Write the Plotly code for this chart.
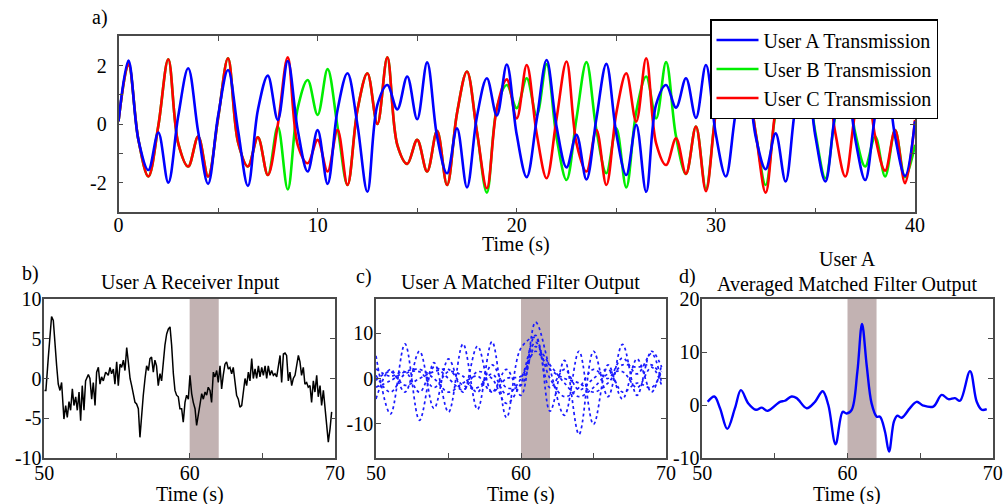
import plotly.graph_objects as go

# ---------------- data: panel a (transmissions) ----------------
A_TIME = [0.0, 0.5, 1.0, 1.5, 2.0, 2.5, 3.0, 3.5, 4.0, 4.5, 5.0, 5.5, 6.0, 6.5, 7.0, 7.5,
          8.0, 8.5, 9.0, 9.5, 10.0, 10.5, 11.0, 11.5, 12.0, 12.5, 13.0, 13.5, 14.0, 14.5,
          15.0, 15.5, 16.0, 16.5, 17.0, 17.5, 18.0, 18.5, 19.0, 19.5, 20.0, 20.5, 21.0,
          21.5, 22.0, 22.5, 23.0, 23.5, 24.0, 24.5, 25.0, 25.5, 26.0, 26.5, 27.0, 27.5,
          28.0, 28.5, 29.0, 29.5, 30.0, 30.5, 31.0, 31.5, 32.0, 32.5, 33.0, 33.5, 34.0,
          34.5, 35.0, 35.5, 36.0, 36.5, 37.0, 37.5, 38.0, 38.5, 39.0, 39.5, 40.0]

USER_A = [0.1, 2.17, -0.53, -1.56, -0.28, -1.99, 0.28, 1.91, -0.25, -2.03,
          0.28, 1.85, -0.19, -2.1, 0.49, 1.66, 0.15, 2.16, -0.19, -1.61,
          -0.2, -2.03, 0.49, 1.74, -0.02, -2.3, 0.66, 1.34, 0.51, 1.63,
          0.17, 2.11, -0.42, -1.67, -0.14, -2.15, 0.26, 1.57, 0.3, 2.04,
          -0.36, -1.8, 0.15, 2.19, -0.08, -1.47, -0.36, -1.88, 0.2, 2.06,
          -0.31, -1.73, -0.02, -2.3, 0.68, 1.34, 0.57, 1.57, 0.22, 2.02,
          -0.35, -1.78, 0.4, 1.8, -0.42, -1.53, -0.31, -1.95, 0.6, 1.9,
          -0.42, -1.95, 0.4, 1.8, -0.5, -1.9, 0.3, 1.8, -0.42, -1.76, 0.1]

USER_B = [0.1, 2.05, -0.53, -1.78, -0.05, 2.22, -0.65, -1.44, -0.42, -1.78,
          0.2, 2.25, -0.6, -1.44, -0.44, -1.73, -0.08, -2.22, 0.55, 1.51,
          0.32, 1.88, -0.08, -2.07, 0.49, 1.74, 0.01, 2.28, -0.7, -1.35,
          -0.53, -1.61, -0.22, -2.07, 0.38, 1.8, -0.25, -2.33, 0.55, 1.34,
          0.55, 1.57, 0.3, 2.05, -0.45, -1.9, 0.2, 2.12, -0.19, -1.67,
          -0.14, -2.15, 0.43, 1.63, 0.2, 2.12, -0.42, -1.69, -0.08, -2.2,
          0.4, 1.9, 0.5, 1.6, -0.3, -2.07, 0.4, 1.8, 0.5, 1.7,
          -0.3, -1.84, 0.3, 1.6, -0.3, -1.44, -0.42, -1.78, -0.2, -1.8, -0.7]

USER_C = [0.1, 2.05, -0.53, -1.78, -0.05, 2.22, -0.65, -1.44, -0.42, -1.78,
          0.2, 2.25, -0.6, -1.44, -0.44, -1.73, -0.02, 2.28, -0.7, -1.33,
          -0.53, -1.61, -0.19, -2.07, 0.49, 1.74, 0.01, 2.28, -0.7, -1.35,
          -0.53, -1.61, -0.22, -2.07, 0.38, 1.8, -0.25, -2.18, 0.55, 1.53,
          0.2, 2.02, -0.31, -1.84, 0.2, 2.14, -0.65, -1.61, -0.19, -2.07,
          0.38, 1.74, 0.09, 2.25, -0.65, -1.39, -0.48, -1.69, -0.08, -2.28,
          0.4, 1.9, 0.5, 1.6, -0.3, -2.33, 0.5, 1.9, 0.5, 1.7,
          0.6, 1.8, -0.3, -1.78, 0.4, 1.7, -0.42, -1.58, -0.2, -2.01, 0.15]

SERIES_NAMES = ["User A Transmission", "User B Transmission", "User C Transmission"]
A_TICKS_X = [0, 5, 10, 15, 20, 25, 30, 35, 40]
A_TICKTEXT_X = ["0", "", "10", "", "20", "", "30", "", "40"]
A_TICKS_Y = [-2, -1, 0, 1, 2]
A_TICKTEXT_Y = ["-2", "", "0", "", "2"]

# ---------------- data: panel b (receiver input) ----------------
B_TIME = [50.0, 50.11, 50.27, 50.39, 50.5, 50.62, 50.73, 50.85, 50.96, 51.08, 51.19, 51.35,
          51.47, 51.58, 51.7, 51.81, 51.93, 52.04, 52.16, 52.27, 52.39, 52.5, 52.61, 52.73,
          52.84, 53.03, 53.14, 53.26, 53.37, 53.49, 53.6, 53.72, 53.83, 53.94, 54.06, 54.22,
          54.4, 54.52, 54.63, 54.75, 54.86, 54.98, 55.09, 55.21, 55.32, 55.44, 55.55, 55.67,
          55.78, 55.9, 56.01, 56.12, 56.24, 56.35, 56.47, 56.58, 56.7, 56.81, 56.93, 57.04,
          57.16, 57.27, 57.38, 57.5, 57.61, 57.72, 57.84, 57.96, 58.07, 58.19, 58.3, 58.42,
          58.53, 58.65, 58.76, 58.88, 58.99, 59.1, 59.22, 59.33, 59.45, 59.56, 59.68, 59.79,
          59.91, 60.02, 60.14, 60.25, 60.37, 60.48, 60.6, 60.71, 60.83, 60.94, 61.06, 61.17,
          61.28, 61.4, 61.51, 61.63, 61.74, 61.86, 61.97, 62.09, 62.2, 62.31, 62.43, 62.54,
          62.66, 62.77, 62.89, 63.0, 63.12, 63.23, 63.35, 63.46, 63.58, 63.69, 63.81, 63.92,
          64.04, 64.15, 64.27, 64.38, 64.5, 64.61, 64.73, 64.84, 64.96, 65.07, 65.19, 65.3,
          65.41, 65.53, 65.64, 65.76, 65.87, 65.99, 66.1, 66.22, 66.33, 66.45, 66.56, 66.67,
          66.79, 66.9, 67.02, 67.13, 67.25, 67.36, 67.48, 67.59, 67.7, 67.82, 67.93, 68.05,
          68.16, 68.28, 68.39, 68.51, 68.62, 68.74, 68.85, 68.97, 69.08, 69.2, 69.31, 69.43,
          69.54, 69.66, 69.77]
B_SIGNAL = [-1.5, -1.5, 2.5, 5.0, 7.8, 7.3, 4.2, 1.6, -0.7, -1.5, -0.5, -5.1,
            -3.4, -4.9, -2.9, -4.0, -1.3, -3.4, -2.3, -4.0, -1.7, -5.3, -0.9, -4.0,
            -0.3, 0.5, 0.0, -2.6, -0.5, -3.4, 0.8, 1.4, -0.7, 0.2, -0.3, 0.8,
            0.4, 1.4, 0.6, 1.2, -0.7, 2.1, -0.9, 1.8, 1.4, 2.3, 1.0, 3.9,
            2.1, 0.0, -0.9, -2.1, -3.0, -3.2, -3.8, -7.4, -4.0, -2.1, 0.0, 1.6,
            1.0, 2.5, 2.7, 0.8, 2.3, 1.6, -0.9, 0.6, -0.3, 2.1, 4.2, 5.6,
            6.2, 6.5, 4.2, 0.6, -1.5, -2.1, -2.3, -3.8, -3.8, -5.5, -3.0, -2.1,
            -2.6, 0.4, -1.9, -3.0, -3.8, -5.9, -4.7, -3.2, -1.9, -2.6, -1.7, -2.1,
            -1.1, -1.5, -3.0, 0.8, 0.2, 1.0, -0.5, 1.6, -1.3, 0.4, 1.8, 2.1,
            1.2, 1.4, 0.6, 1.4, -0.5, -2.1, -2.6, -3.6, -3.4, -1.7, 0.0, -0.9,
            0.8, -0.3, 2.5, 0.0, 1.2, 0.0, 1.6, 0.2, 1.4, 0.4, 1.6, 0.0,
            1.6, 0.4, 1.0, 0.4, 0.6, 0.2, 1.4, 2.9, -0.5, 3.1, 3.2, 2.9,
            -0.3, 0.8, -0.9, 0.0, 0.4, 1.6, 2.9, 2.1, 0.4, 1.4, -0.7, -0.5,
            -1.1, -0.9, -3.0, -0.3, -1.7, 0.4, -2.3, -0.9, -3.4, -1.5, -3.8, -6.3,
            -8.0, -6.3, -4.2]

# ---------------- data: panel c (matched filter outputs) ----------------
C_TIME = [50, 51, 52, 53, 54, 55, 56, 57, 58, 59, 60, 61, 62, 63, 64, 65, 66, 67, 68, 69, 69.7]
C_OUT_1 = [5.0, -7.8, 7.6, -9.2, 3.5, -7.4, 7.6, -6.8, 8.1, -8.6, 6.7, 9.0, -7.2, 4.0, -12.3, 6.0, -4.0, 7.5, -3.7, 6.0, 2.5]
C_OUT_2 = [-4.5, 2.0, -3.0, 6.0, -6.6, 4.3, -3.0, 7.1, -3.0, 2.0, -3.7, 12.4, 2.0, -8.1, 6.0, -10.1, 3.0, -4.5, 4.3, -3.0, 3.0]
C_OUT_3 = [2.1, 0.5, 1.5, -3.0, 2.5, 0.0, -2.5, 1.5, 0.0, -5.5, -1.0, 8.0, 0.0, -4.0, -2.0, 2.0, 0.0, 4.5, 1.0, 5.5, -1.0]
C_OUT_4 = [0.7, -3.0, 1.0, 1.5, -2.0, 1.5, 0.5, -3.0, 3.0, -2.0, -1.5, 7.0, 3.0, -1.0, -4.0, -2.0, 1.0, 1.5, -2.0, 2.5, -1.5]
C_OUT_5 = [-1.9, -0.5, 1.5, 2.0, 0.0, -3.0, -1.0, 0.5, -3.0, 0.0, 0.5, 6.0, 2.0, 0.0, -1.0, -3.0, -1.0, 3.0, 2.5, 3.0, 0.5]
C_OUT_6 = [-0.4, 1.5, -1.5, 0.0, 1.5, 2.0, -1.5, -2.0, 1.0, -3.5, 0.0, 9.5, -2.0, 2.0, -2.5, 0.0, 2.0, -3.0, -1.0, -2.0, 1.5]
C_OUTPUTS = [C_OUT_1, C_OUT_2, C_OUT_3, C_OUT_4, C_OUT_5, C_OUT_6]

# ---------------- data: panel d (averaged output) ----------------
D_TIME = [50.37, 50.83, 51.22, 51.72, 52.25, 52.66, 53.17, 53.7, 54.09, 54.48, 55.35, 55.69,
          56.15, 56.5, 57.19, 57.76, 58.29, 58.68, 59.18, 59.67, 59.94, 60.29, 60.68, 61.0,
          61.32, 61.66, 62.01, 62.24, 62.58, 62.86, 63.2, 63.43, 63.73, 64.3, 64.76, 65.22,
          65.91, 66.49, 66.95, 67.4, 67.75, 68.44, 68.9, 69.24, 69.59]
D_AVERAGE = [0.6, 1.6, -0.6, -4.5, -0.6, 2.8, 0.3, -0.9, -0.5, -1.1, 0.6, 0.8,
             1.6, 1.3, -0.6, 0.6, 2.6, 0.0, -7.4, -1.3, -1.6, -0.9, 6.3, 15.3,
             7.5, 0.3, -2.2, -2.2, -5.0, -8.8, -3.1, -2.0, -2.4, -0.6, 0.6, -0.1,
             -0.3, 1.9, 1.1, 1.3, 0.8, 6.4, 0.6, -0.9, -0.8]

SHADE_START, SHADE_END = 60, 62
BOTTOM_TICKS_X = [50, 55, 60, 65, 70]
BOTTOM_TICKTEXT_X = ["50", "", "60", "", "70"]

# ---------------- figure ----------------
W, H = 1003, 504
FONT = "Liberation Serif"
AX = "#4a4a4a"


def px(v):
    return v / W


def py(v):
    return 1 - v / H


fig = go.Figure()

# panel a traces (green, red, blue drawn in that order; legend A, B, C)
fig.add_trace(go.Scatter(x=A_TIME, y=USER_B, name=SERIES_NAMES[1], mode="lines",
                         line=dict(color="#00ee00", width=2.6, shape="spline", smoothing=1.0),
                         legendrank=2, xaxis="x", yaxis="y"))
fig.add_trace(go.Scatter(x=A_TIME, y=USER_C, name=SERIES_NAMES[2], mode="lines",
                         line=dict(color="#ff0000", width=2.6, shape="spline", smoothing=1.0),
                         legendrank=3, xaxis="x", yaxis="y"))
fig.add_trace(go.Scatter(x=A_TIME, y=USER_A, name=SERIES_NAMES[0], mode="lines",
                         line=dict(color="#0000ff", width=2.6, shape="spline", smoothing=1.0),
                         legendrank=1, xaxis="x", yaxis="y"))

# panel b
fig.add_trace(go.Scatter(x=B_TIME, y=B_SIGNAL, mode="lines", showlegend=False,
                         line=dict(color="black", width=1.5), xaxis="x2", yaxis="y2"))

# panel c
for series in C_OUTPUTS:
    fig.add_trace(go.Scatter(x=C_TIME, y=series, mode="lines", showlegend=False,
                             line=dict(color="#1a1aff", width=1.7, dash="dot",
                                       shape="spline", smoothing=1.0),
                             xaxis="x3", yaxis="y3"))
fig.add_trace(go.Scatter(x=[], y=[], showlegend=False, xaxis="x3", yaxis="y5"))

# panel d
fig.add_trace(go.Scatter(x=D_TIME, y=D_AVERAGE, mode="lines", showlegend=False,
                         line=dict(color="#0000ff", width=2.4, shape="spline", smoothing=1.0),
                         xaxis="x4", yaxis="y4"))
fig.add_trace(go.Scatter(x=[], y=[], showlegend=False, xaxis="x4", yaxis="y6"))

tickfont = dict(family=FONT, size=20, color="black")
base = dict(showline=True, linecolor=AX, linewidth=1.5, ticks="inside", tickcolor=AX,
            tickwidth=1.2, ticklen=5, showgrid=False, zeroline=False, tickfont=tickfont,
            automargin=False)
xtop = dict(base, ticklabelstandoff=-6)
xbase = dict(base, ticklabelstandoff=-4)
ybottom = dict(base, ticklabelstandoff=-3)

fig.update_layout(
    width=W, height=H,
    margin=dict(l=0, r=0, t=0, b=0, pad=0, autoexpand=False),
    paper_bgcolor="white", plot_bgcolor="white",
    xaxis=dict(xtop, domain=[px(118.5), px(915)], range=[0, 40], anchor="y",
               tickvals=A_TICKS_X, ticktext=A_TICKTEXT_X, mirror="ticks"),
    yaxis=dict(base, domain=[py(212.3), py(36.3)], range=[-3, 3], anchor="x",
               tickvals=A_TICKS_Y, ticktext=A_TICKTEXT_Y, mirror="ticks",
               ticklabelstandoff=6),
    xaxis2=dict(xbase, domain=[px(44.3), px(335)], range=[50, 70], anchor="y2",
                tickvals=BOTTOM_TICKS_X, ticktext=BOTTOM_TICKTEXT_X, mirror=True),
    yaxis2=dict(ybottom, domain=[py(458), py(299)], range=[-10, 10], anchor="x2",
                tickvals=[-10, -5, 0, 5, 10], ticktext=["-10", "-5", "0", "5", "10"],
                mirror="ticks"),
    xaxis3=dict(xbase, domain=[px(376), px(666)], range=[50, 70], anchor="y3",
                tickvals=BOTTOM_TICKS_X, ticktext=BOTTOM_TICKTEXT_X, mirror=True),
    yaxis3=dict(ybottom, domain=[py(458), py(299)], range=[-17.5, 17.5], anchor="x3",
                tickvals=[-10, 0, 10], ticktext=["-10", "0", "10"], mirror=True),
    yaxis5=dict(overlaying="y3", side="right", anchor="x3", range=[-10, 10],
                tickvals=[-5, 0, 5], showticklabels=False, ticks="inside", tickcolor=AX,
                tickwidth=1.2, ticklen=5, showline=False, showgrid=False, zeroline=False),
    xaxis4=dict(xbase, domain=[px(702.3), px(992.7)], range=[50, 70], anchor="y4",
                tickvals=BOTTOM_TICKS_X, ticktext=BOTTOM_TICKTEXT_X, mirror=True),
    yaxis4=dict(ybottom, domain=[py(458), py(299)], range=[-10, 20], anchor="x4",
                tickvals=[-10, 0, 10, 20], ticktext=["-10", "0", "10", "20"], mirror=True),
    yaxis6=dict(overlaying="y4", side="right", anchor="x4", range=[-10, 10],
                tickvals=[-5, 0, 5], showticklabels=False, ticks="inside", tickcolor=AX,
                tickwidth=1.2, ticklen=5, showline=False, showgrid=False, zeroline=False),
    legend=dict(x=px(710), y=py(19), xanchor="left", yanchor="top", bgcolor="white",
                bordercolor="black", borderwidth=1.5, itemwidth=42,
                font=dict(family=FONT, size=20, color="black"), traceorder="normal"),
    showlegend=True,
)

shapes = []
for xr, yr in [("x2", "y2"), ("x3", "y3"), ("x4", "y4")]:
    shapes.append(dict(type="rect", xref=xr, yref=yr + " domain", x0=SHADE_START,
                       x1=SHADE_END, y0=0, y1=1, fillcolor="rgb(194,178,178)",
                       line=dict(width=0), layer="below"))
fig.update_layout(shapes=shapes)

afont = dict(family=FONT, size=20, color="black")
labels = [
    ("a)", 100, 18), ("Time (s)", 516, 244),
    ("b)", 30, 273), ("User A Receiver Input", 190, 282), ("Time (s)", 190, 494),
    ("c)", 364, 276), ("User A Matched Filter Output", 520, 282), ("Time (s)", 521, 494),
    ("d)", 687, 276), ("User A", 847, 259), ("Averaged Matched Filter Output", 847, 284),
    ("Time (s)", 847, 494),
]
fig.update_layout(annotations=[
    dict(text=t, x=px(x), y=py(y), xref="paper", yref="paper", xanchor="center",
         yanchor="middle", showarrow=False, font=afont)
    for t, x, y in labels
])

fig.write_html("out.html", config={"displayModeBar": False},
               post_script="document.body.style.margin='0px';document.body.style.padding='0px';document.body.style.overflow='hidden';")
